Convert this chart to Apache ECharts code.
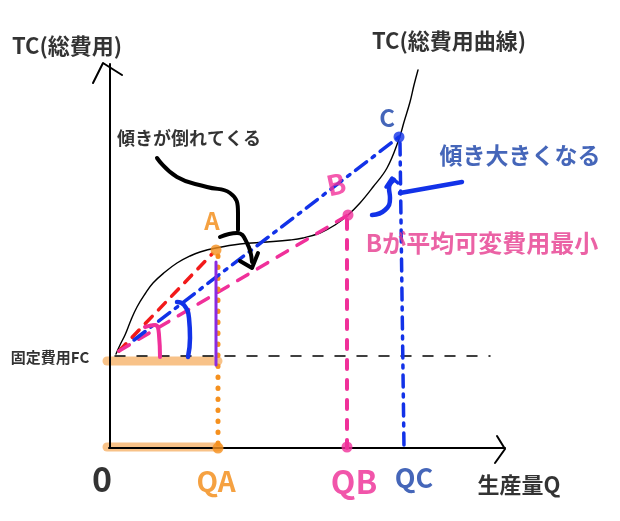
<!DOCTYPE html>
<html><head><meta charset="utf-8">
<script src="https://cdn.jsdelivr.net/npm/echarts@6.0.0/dist/echarts.min.js"></script>
<style>html,body{margin:0;padding:0;background:#fff}#c{width:620px;height:521px}</style>
</head><body><div id="c"></div><script>
// ---- data (Q on x, cost on y; arbitrary units) ----
const tcCurve = [[7,94],[11,103],[16,113],[22,128],[28,141],[36,154],[44,165],[56,176],[68,185],[81,192],[91,196],[107,200],[131,204],[158,206],[181,208],[194,210],[211,215],[226,223],[239,233],[251,245],[264,261],[278,280],[290,309],[295,326],[301,346],[305,363],[309,378]];
const pointA = [107,198];
const pointB = [239,233];
const pointC = [290,311];
const fixedCost = 92;
const QA = 109, QB = 238, QC = 293;
const yAxisLine = [[1,0],[1,384]];
const yArrow = [[-16,365],[-6,385],[13,373]];
const xAxisLine = [[0,0],[396,0]];
const xArrow = [[388,12],[396,-1],[386,-15]];
const fcLine = [[6,fixedCost],[381,fixedCost]];
const fcBarTop = [[-2,87],[QA,87]];
const fcBarBottom = [[-2,1],[QA,1]];
const redRay = [[10,97],[103,194]];
const blueRay = [[25,108],pointC];
const pinkRay = [[10,97],pointB];
const orangeDrop = [[QA,192],[QA,0]];
const purpleSeg = [[107,186],[107,83]];
const pinkDrop = [[238,228],[238,0]];
const blueDrop = [[291,305],[295,0]];
const blackHook = [[48,290],[68,271],[98,261],[121,255],[129,235],[129,218]];
const blackArrow = [[111,211],[128,215],[138,205],[143,186]];
const blackArrowHead = [[131,187],[143,180],[149,195]];
const blueTick = [[291,255],[353,266]];
const blueArcC = [[263,233],[276,238],[281,250],[280,260],[285,268]];
const blueArcCHead = [[277,261],[283,270],[289,265]];
const pinkArc0 = [[36,121],[46,123],[50,113],[51,91]];
const blueArc0 = [[68,146],[75,143],[80,130],[81,110],[79,91]];
const labelTexts = ['TC(総費用)','TC(総費用曲線)','傾きが倒れてくる','傾き大きくなる','Bが平均可変費用最小','C','A','B','固定費用FC','0','QA','QB','QC','生産量Q'];
const labelAnchors = [[-42,402],[340,407],[80,310],[411,293],[373,205],[278,330],[103,227],[227,264],[-59,91],[-7,-31],[107,-33],[245,-34],[305,-30],[410,-37]];
const labelColors = ['#000','#000','#000','#1640a8','#e63b8e','#1640a8','#f38a12','#f2319a','#000','#000','#f38a12','#ee2a95','#1640a8','#000'];
const labelSizes = [22,22,18,23,24,24,24,28,15,34,28,32,27,22];

const BLUE = '#1232e8', PINK = '#f0309a', RED = '#f21a1a', ORANGE = '#f5901e', BAR = '#f8c288', PURPLE = '#8a2be2';
function line(data, color, width, type, smooth, z) {
  return {type:'line', data, symbol:'none', smooth: smooth || false, silent:true, z: z || 2,
    lineStyle:{color, width, type: type || 'solid', cap:'round', join:'round'}};
}
const series = [
  line(fcBarTop, BAR, 9, 'solid', false, 1),
  line(fcBarBottom, BAR, 9, 'solid', false, 1),
  line(yAxisLine, '#000', 2),
  line(yArrow, '#000', 2),
  line(xAxisLine, '#000', 2),
  line(xArrow, '#000', 2),
  line(fcLine, '#000', 1.5, [10,12]),
  line(tcCurve, '#000', 1.4, 'solid', 0.4),
  line(redRay, RED, 3.5, [10,9], false, 3),
  line(pinkRay, PINK, 3.5, [12,11], false, 3),
  line(blueRay, BLUE, 3.5, [14,7,3,7], false, 4),
  line(orangeDrop, ORANGE, 5, [0.5,10.5], false, 3),
  line(purpleSeg, PURPLE, 3, 'solid', false, 4),
  line(pinkDrop, PINK, 4, [9,11], false, 3),
  line(blueDrop, BLUE, 3.5, [12,7,3,7], false, 3),
  line(blackHook, '#000', 4, 'solid', 0.5, 5),
  line(blackArrow, '#000', 4, 'solid', 0.5, 5),
  line(blackArrowHead, '#000', 4, 'solid', false, 5),
  line(blueTick, BLUE, 4.5, 'solid', false, 5),
  line(blueArcC, BLUE, 4.5, 'solid', 0.5, 5),
  line(blueArcCHead, BLUE, 3.5, 'solid', false, 5),
  line(pinkArc0, PINK, 4, 'solid', 0.5, 5),
  line(blueArc0, BLUE, 4.5, 'solid', 0.5, 5),
  {type:'scatter', silent:true, z:6, symbolSize:11,
    data:[
      {value: pointA, itemStyle:{color:ORANGE}},
      {value: pointB, itemStyle:{color:PINK}},
      {value: pointC, itemStyle:{color:BLUE}},
      {value: [QA,0], itemStyle:{color:ORANGE}},
      {value: [QB,1], itemStyle:{color:PINK}}
    ]},
  {type:'scatter', silent:true, z:10, symbolSize:0,
    data: labelTexts.map((t,i)=>({value: labelAnchors[i], name:t,
      label:{show:true, position:'inside', formatter:t, color:labelColors[i], fontSize:labelSizes[i],
        fontWeight:'bold', fontFamily:'"Noto Sans CJK JP", "Liberation Sans", sans-serif',
        rotate: t==='B' ? 12 : 0}}))}
];
const chart = echarts.init(document.getElementById('c'), null, {renderer:'canvas'});
chart.setOption({
  animation:false,
  backgroundColor:'#fff',
  grid:{left:0,right:0,top:0,bottom:0},
  xAxis:{type:'value', min:-109, max:511, show:false},
  yAxis:{type:'value', min:-73, max:448, show:false},
  series
});
</script></body></html>
